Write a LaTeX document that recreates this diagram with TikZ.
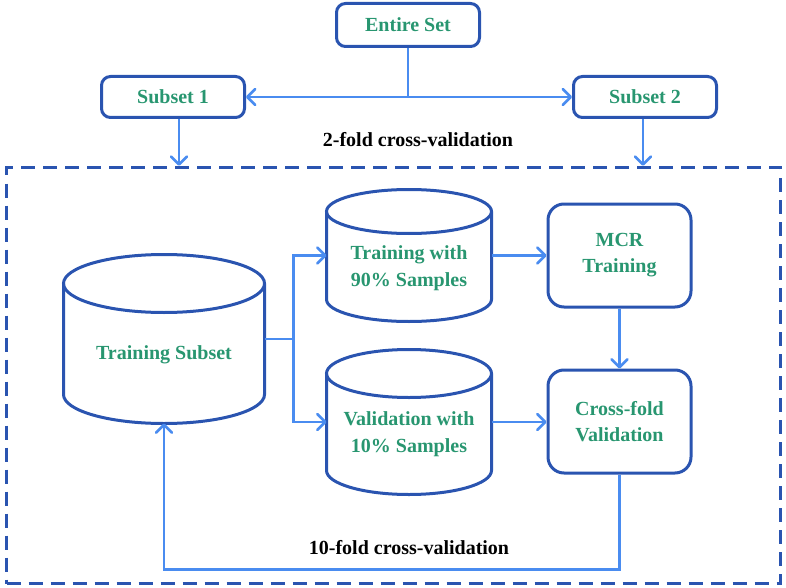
\documentclass[tikz,border=0pt]{standalone}
\usepackage{fontspec}
\setmainfont{Liberation Serif}
\usetikzlibrary{arrows.meta, positioning, calc}
\definecolor{boxblue}{RGB}{42,84,176}
\definecolor{flowblue}{RGB}{74,140,240}
\definecolor{labelgreen}{RGB}{40,150,112}

% cylinder outline around a placeholder node: #1 name, #2 x radius, #3 y radius
\newcommand{\drum}[3]{%
    \draw[boxblue, line width=3pt, line join=round]
        ($(#1.north west)+(0,#3)$) -- ($(#1.south west)-(0,#3)$)
        arc[start angle=180, end angle=360, x radius=#2pt, y radius=#3pt]
        -- ($(#1.north east)+(0,#3)$);
    \draw[boxblue, line width=3pt] ($(#1.north)+(0,#3)$) ellipse[x radius=#2pt, y radius=#3pt];
}

\begin{document}
\begin{tikzpicture}[
    x=1pt, y=-1pt,
    box/.style={draw=boxblue, line width=3pt, rounded corners=9pt, font=\bfseries\fontsize{20}{26}\selectfont, text=labelgreen, align=center},
    bigbox/.style={box, rounded corners=16pt, minimum width=143pt, minimum height=103pt},
    slot/.style={inner sep=0pt, outer sep=0pt},
    tag/.style={font=\bfseries\fontsize{20}{27}\selectfont, text=labelgreen, align=center},
    link/.style={draw=flowblue, line width=2.6pt},
    tip/.style={link, -{Straight Barb[length=8pt, width=16pt, round]}},
    caption/.style={font=\bfseries\fontsize{20}{24}\selectfont}
]
    \useasboundingbox (0,0) rectangle (786,588);

    % Top level split
    \node[box, minimum width=143pt, minimum height=43pt] (entire) at (408,25) {Entire Set};
    \node[box, minimum width=143pt, minimum height=41pt] (subsetA) at (173,97) {Subset 1};
    \node[box, minimum width=143pt, minimum height=41pt] (subsetB) at (645,97) {Subset 2};
    \node[caption] (twofold) at (418,140) {2-fold cross-validation};

    % Inner 10-fold frame
    \node[draw=boxblue, line width=3.5pt, dash pattern=on 14pt off 8pt, minimum width=774pt, minimum height=416pt] (cvbox) at (393.5,375.5) {};

    % Data stores
    \node[slot, minimum width=201pt, minimum height=169pt] (tsub) at (164,339) {};
    \drum{tsub}{100.5}{29}
    \node[tag] (tsubtxt) at ([yshift=-16pt]tsub.center) {Training Subset};
    \node[slot, minimum width=165pt, minimum height=132pt] (train) at (409,255.5) {};
    \drum{train}{82.5}{22}
    \node[tag] (traintxt) at ([yshift=-13pt]train.center) {Training with\\90\% Samples};
    \node[slot, minimum width=165pt, minimum height=145pt] (valid) at (409,422) {};
    \drum{valid}{82.5}{24}
    \node[tag] (validtxt) at ([yshift=-12pt]valid.center) {Validation with\\10\% Samples};

    % Processing steps
    \node[bigbox] (mcr) at (619.5,255.5) {MCR\\Training};
    \node[bigbox] (cross) at (619.5,421.5) {Cross-fold\\Validation};

    % Connectors
    \draw[link] (entire.south) -- (entire.south |- subsetA.east) coordinate (split);
    \draw[tip] (split) -- (subsetA.east);
    \draw[tip] (split) -- (subsetB.west);
    \draw[tip] ([xshift=6pt]subsetA.south) -- ([xshift=6pt]subsetA.south |- cvbox.north);
    \draw[tip] ([xshift=-2pt]subsetB.south) -- ([xshift=-2pt]subsetB.south |- cvbox.north);

    \draw[link] (tsub.east) -- ++(29,0) coordinate (fork);
    \draw[tip] (fork) |- (train.west);
    \draw[tip] (fork) |- (valid.west);
    \draw[tip] (train.east) -- (mcr.west |- train.east);
    \draw[tip] (valid.east) -- (cross.west |- valid.east);
    \draw[tip] (mcr.south) -- (cross.north);
    \draw[tip] (cross.south) -- ++(0,95) -| (tsub.south);
    \node[caption] (tenfold) at (409,548) {10-fold cross-validation};
\end{tikzpicture}
\end{document}
